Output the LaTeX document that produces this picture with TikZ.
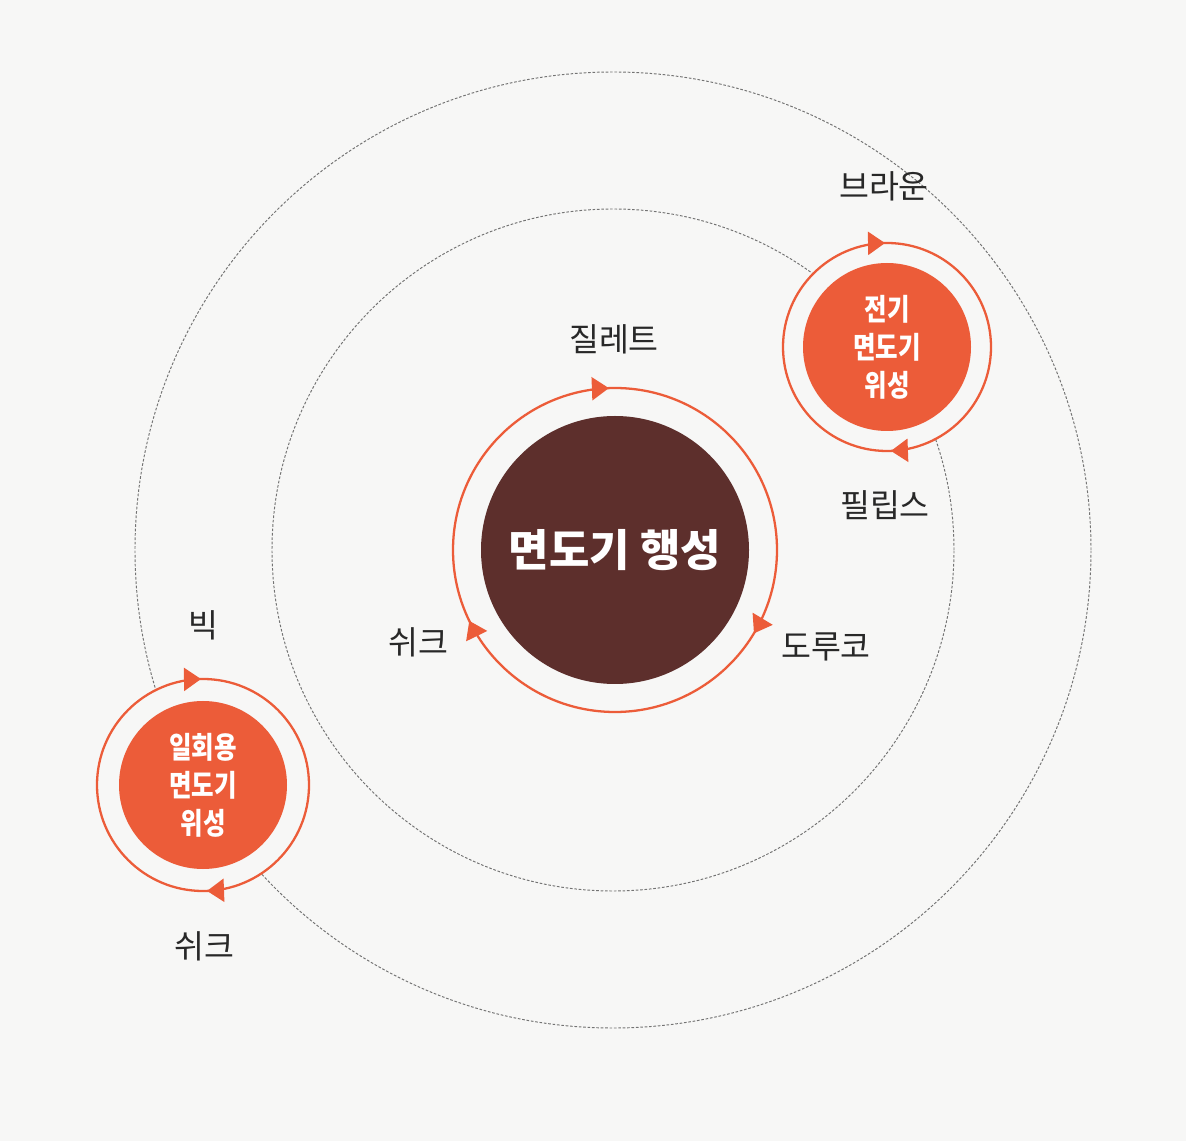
\documentclass[tikz,border=0pt]{standalone}
\usepackage{fontspec}
\setmainfont{Noto Sans CJK KR}
\newfontfamily\satfont[FakeStretch=0.82]{Noto Sans CJK KR}
\usetikzlibrary{arrows.meta, decorations.markings, positioning}
\definecolor{paper}{RGB}{247,247,246}
\definecolor{razorbrown}{RGB}{93,47,44}
\definecolor{razororange}{RGB}{236,92,57}
\definecolor{orbitgray}{RGB}{115,115,115}
\definecolor{inkgray}{RGB}{40,40,40}

\begin{document}
\begin{tikzpicture}[> = Triangle,
	orbit/.style={orbitgray, line width=0.55pt, dash pattern=on 1.5pt off 1pt},
	cycle ring/.style={razororange, line width=1.3pt, fill=paper},
	spin at/.style={postaction={decorate, decoration={markings,
		mark=at position #1 with {\arrowreversed{Triangle[length=3.4mm,width=4.6mm]}}}}},
	planet/.style={circle, fill=razorbrown, text=white, minimum size=5.36cm, inner sep=0pt,
		font=\bfseries\fontsize{25}{30}\selectfont},
	satellite/.style={circle, fill=razororange, text=white, minimum size=3.36cm, inner sep=0pt,
		align=center, font=\satfont\bfseries\fontsize{17}{21.6}\selectfont},
	brand/.style={text=inkgray, font=\fontsize{18.5}{22}\selectfont}]

	% page
	\fill[paper] (0,0) rectangle (23.72,22.82);
	\useasboundingbox (0,0) rectangle (23.72,22.82);

	% orbits
	\coordinate (O) at (12.26,11.82);
	\draw[orbit] (O) circle (9.56);
	\draw[orbit] (O) circle (6.82);

	% razor planet
	\coordinate (P) at (12.30,11.82);
	\draw[cycle ring, spin at=0.256, spin at=0.572, spin at=0.914] (P) circle (3.24);
	\node[planet] (core) at (P) {면도기 행성};

	% satellites
	\coordinate (E) at (17.74,15.88);
	\draw[cycle ring, spin at=0.253, spin at=0.756] (E) circle (2.08);
	\node[satellite] (electric) at (E) {전기\\면도기\\위성};

	\coordinate (D) at (4.06,7.12);
	\draw[cycle ring, spin at=0.253, spin at=0.756] (D) circle (2.12);
	\node[satellite] (disposable) at (D) {일회용\\면도기\\위성};

	% brands
	\node[brand] (gillette) at (12.28,16.04) {질레트};
	\node[brand] (schickin) at (8.36,9.98) {쉬크};
	\node[brand] (dorco) at (16.52,9.88) {도루코};
	\node[brand] (braun) at (17.68,19.10) {브라운};
	\node[brand] (philips) at (17.70,12.72) {필립스};
	\node[brand] (bic) at (4.06,10.32) {빅};
	\node[brand] (schickout) at (4.08,3.90) {쉬크};
\end{tikzpicture}
\end{document}
